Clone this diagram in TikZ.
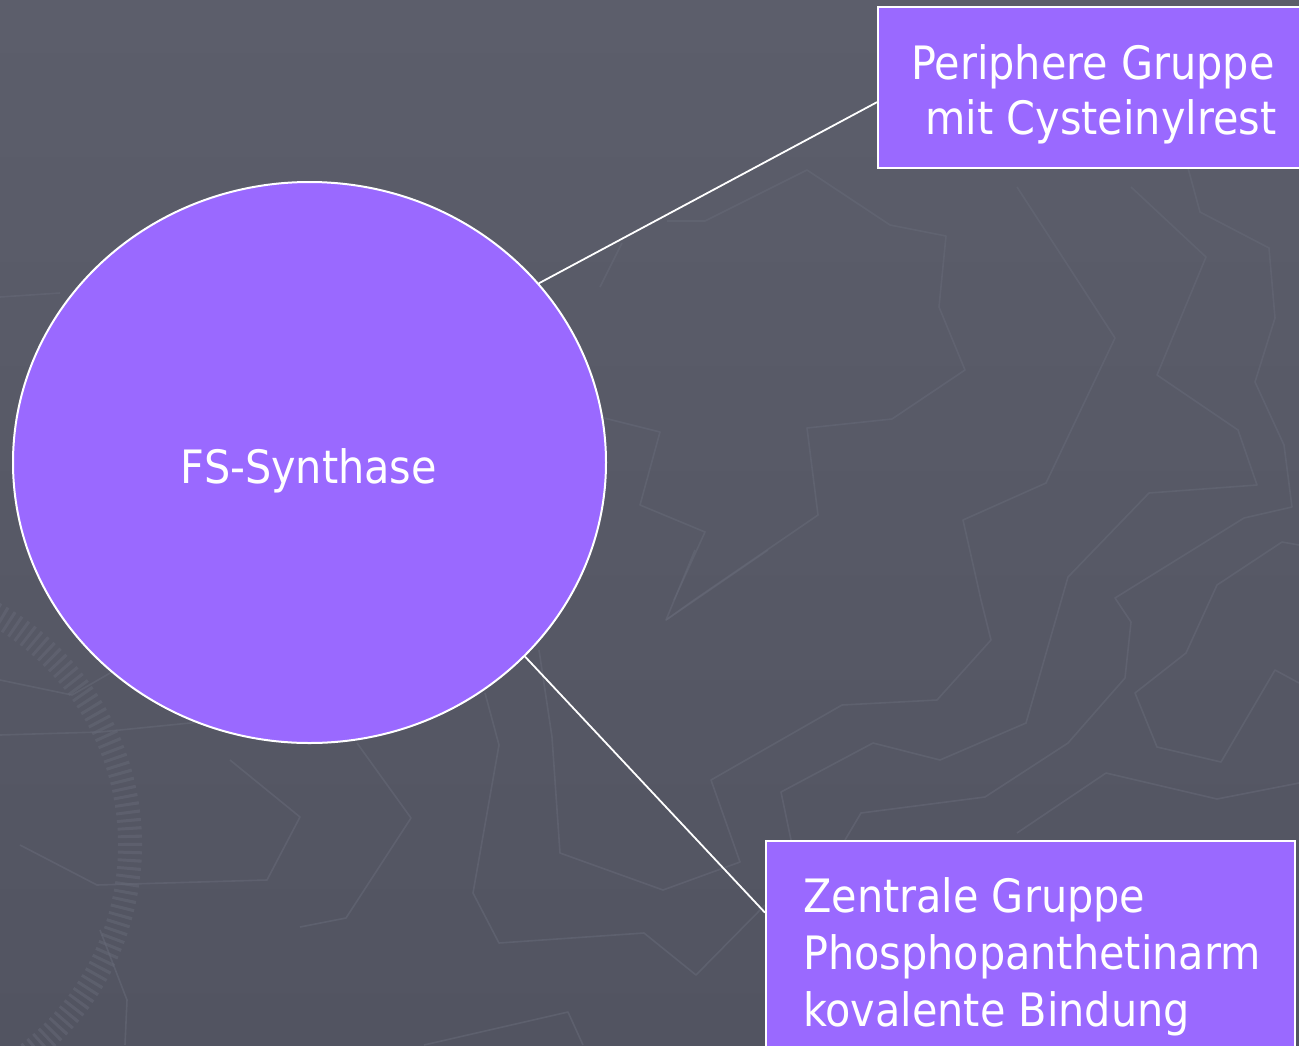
\documentclass[tikz,border=0pt]{standalone}
\usepackage{fontspec}
\setmainfont{DejaVu Sans Condensed}
\usetikzlibrary{shapes.geometric,calc}
\definecolor{bgtop}{HTML}{5C5E6B}
\definecolor{bgbot}{HTML}{525461}
\definecolor{violet}{HTML}{9A69FF}
\definecolor{pat}{HTML}{656876}
\tikzset{
  lbl/.style={text=white,font=\fontsize{46}{55}\selectfont,inner sep=0pt},
  boxnode/.style={draw=white,line width=2pt,fill=violet,inner sep=0pt,anchor=north west},
  link/.style={draw=white,line width=1.8pt},
  bgline/.style={draw=pat,line width=1.6pt,line join=round,opacity=0.6}
}
\begin{document}
\begin{tikzpicture}[x=1pt,y=-1pt]
\useasboundingbox (0,0) rectangle (1299,1045);
\clip (0,0) rectangle (1299,1045);
\shade[top color=bgtop,bottom color=bgbot] (0,0) rectangle (1299,1045);
% faint background map pattern
\draw[bgline] (667,221) -- (705,221) -- (807,170) -- (890,225) -- (946,236) -- (939,307) -- (965,370) -- (892,419) -- (807,428) -- (818,515) -- (694,600) -- (666,620) -- (695,550);
\draw[bgline] (666,620) -- (768,550);
\draw[bgline] (1017,187) -- (1115,338) -- (1046,483) -- (963,520) -- (981,600) -- (991,640) -- (937,700) -- (842,705) -- (711,780) -- (740,862) -- (663,890) -- (560,853) -- (552,737) -- (539,650);
\draw[bgline] (1131,187) -- (1206,257) -- (1157,375) -- (1238,430) -- (1257,485) -- (1149,493) -- (1068,577) -- (1026,723) -- (940,760) -- (873,743) -- (781,792) -- (791,840);
\draw[bgline] (1188,168) -- (1200,212) -- (1269,248) -- (1275,318) -- (1255,382) -- (1284,445) -- (1292,507) -- (1244,518) -- (1115,598) -- (1131,622) -- (1125,678) -- (1068,743) -- (985,797) -- (861,813) -- (845,840);
\draw[bgline] (1299,545) -- (1282,542) -- (1217,585) -- (1186,653) -- (1135,693) -- (1157,747) -- (1221,762) -- (1275,670) -- (1299,683);
\draw[bgline] (1106,773) -- (1217,799) -- (1299,783);
\draw[bgline] (1106,773) -- (1017,833);
\draw[bgline] (622,243) -- (600,287);
\draw[bgline] (600,417) -- (660,432) -- (640,505) -- (705,532) -- (674,600);
\draw[bgline] (485,693) -- (499,745) -- (473,893) -- (499,943) -- (644,933) -- (696,975) -- (765,905);
\draw[bgline] (357,743) -- (411,818) -- (346,918) -- (300,927);
\draw[bgline] (424,1045) -- (568,1012) -- (583,1045);
\draw[bgline] (0,680) -- (72,695) -- (150,650);
\draw[bgline] (0,735) -- (100,732) -- (200,722);
\draw[bgline] (20,845) -- (97,885) -- (267,880) -- (300,817) -- (230,760);
\draw[bgline] (0,297) -- (60,293);
\draw[bgline] (100,930) -- (127,1000) -- (125,1045);
\draw[draw=pat,opacity=0.55,line width=24pt,dash pattern=on 3pt off 5pt] (-135,845) ++(-80:265) arc[start angle=-80,end angle=80,radius=265];
% ellipse
\node[ellipse,draw=white,line width=2pt,fill=violet,minimum width=593pt,minimum height=561pt,inner sep=0pt] (fs) at (309.5,462.5) {};
\node[lbl,anchor=base] (fst) at (309,483) {FS-Synthase};
% boxes
\node[boxnode,minimum width=440pt,minimum height=161pt] (pb) at (877,6) {};
\node[boxnode,minimum width=529pt,minimum height=230pt] (zb) at (765,840) {};
\node[lbl,anchor=base] (pt1) at (1093,79) {Periphere Gruppe};
\node[lbl,anchor=base] (pt2) at (1101,134) {mit Cysteinylrest};
\node[lbl,anchor=base west] (zt1) at (803,912) {Zentrale Gruppe};
\node[lbl,anchor=base west] (zt2) at (803,969) {Phosphopanthetinarm};
\node[lbl,anchor=base west] (zt3) at (803,1026) {kovalente Bindung};
% connectors
\coordinate (pbend) at ($(pb.north west)!0.59!(pb.south west)$);
\coordinate (zbend) at ($(zb.north west)!0.313!(zb.south west)$);
\draw[link] (fs.38.6) -- (pbend);
\draw[link] (fs.-42.8) -- (zbend);
\end{tikzpicture}
\end{document}
